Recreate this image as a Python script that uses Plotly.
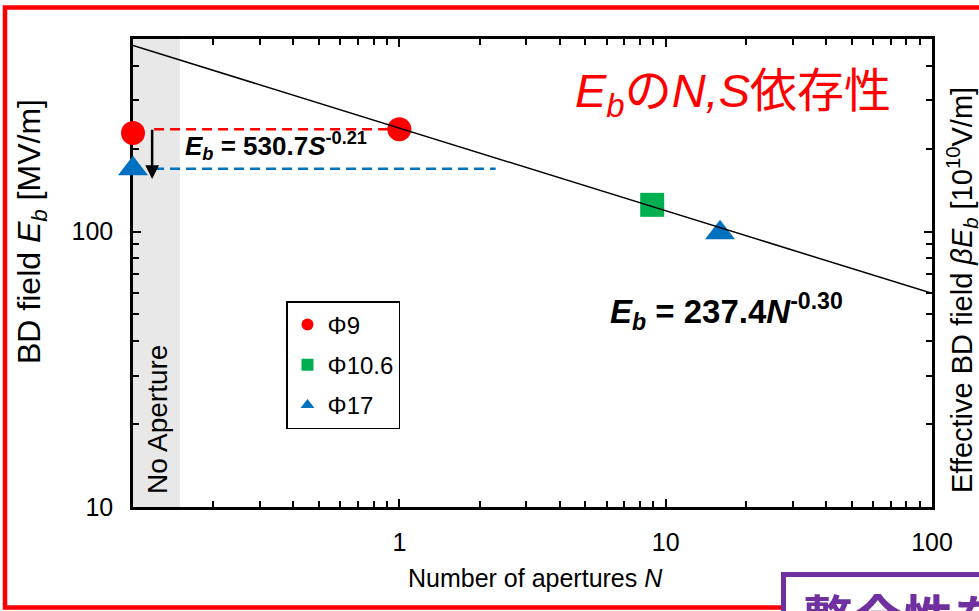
import numpy as np
import plotly.graph_objects as go

# Breakdown field vs number of apertures (E_b in MV/m)
N_phi9 = [0.1, 1.0]
E_phi9 = [228, 235]
N_phi106 = [8.9]
E_phi106 = [125]
N_phi17 = [0.1, 16.0]
E_phi17 = [169, 99]

# power-law fit E_b = A * N^k
fit_A = 237.4
fit_k = -0.30
N_fit = [0.1, 100.0]

# aperture-area fit coefficients (label only)
area_A = 530.7
area_k = -0.21

# guide lines comparing Phi9 (N=1) with Phi17 (no aperture)
guide_red_N = [0.12, 1.0]
guide_blue_N = [0.12, 2.3]
arrow_N = 0.118
arrow_from_E = 237
arrow_to_E = 155

# "No Aperture" band
band_N = [0.1, 0.15]

x_major = [1, 10, 100]
x_major_text = ["1", "10", "100"]
y_major = [10, 100]
y_major_text = ["10", "100"]
x_minor = [m * 10.0 ** e for e in (-1, 0, 1) for m in range(2, 10)]
y_minor = [m * 10.0 ** e for e in (1, 2) for m in range(2, 10) if m * 10.0 ** e < 500]

E_fit = [fit_A * n ** fit_k for n in N_fit]

FONT = "Liberation Sans, Arial, Noto Sans CJK JP, sans-serif"
RED = "#FF0000"
GREEN = "#00B050"
BLUE = "#0070C0"
PURPLE = "#7030A0"

W, H = 979, 611
L, R, T, B = 133, 932, 39, 507


def fx(px):
    return (px - L) / (R - L)


def fy(py):
    return (B - py) / (B - T)


fig = go.Figure()

# dashed guides
fig.add_trace(go.Scatter(x=guide_red_N, y=[E_phi9[1]] * 2, mode="lines",
                         line=dict(color=RED, width=2.5, dash="10px,6px"),
                         showlegend=False, hoverinfo="skip"))
fig.add_trace(go.Scatter(x=guide_blue_N, y=[E_phi17[0]] * 2, mode="lines",
                         line=dict(color=BLUE, width=2.5, dash="10px,6px"),
                         showlegend=False, hoverinfo="skip"))

# measured points
fig.add_trace(go.Scatter(x=N_phi9, y=E_phi9, mode="markers", name="Φ9",
                         legendgroup="a",
                         marker=dict(symbol="circle", size=24, color=RED),
                         cliponaxis=False))
fig.add_trace(go.Scatter(x=N_phi106, y=E_phi106, mode="markers", name="Φ10.6",
                         legendgroup="b",
                         marker=dict(symbol="square", size=24, color=GREEN),
                         cliponaxis=False))
fig.add_trace(go.Scatter(x=N_phi17, y=E_phi17, mode="markers", name="Φ17",
                         legendgroup="c",
                         marker=dict(symbol="triangle-up", size=26, color=BLUE),
                         cliponaxis=False))

# fit line
fig.add_trace(go.Scatter(x=N_fit, y=E_fit, mode="lines",
                         line=dict(color="black", width=1.5),
                         showlegend=False, hoverinfo="skip"))

shapes = [
    dict(type="rect", xref="x", yref="paper", x0=band_N[0], x1=band_N[1], y0=0, y1=1,
         fillcolor="#E8E8E8", line=dict(width=0), layer="below"),
    # outer frame
    dict(type="rect", xref="paper", yref="paper", x0=fx(5), x1=fx(990), y0=fy(7.5), y1=fy(607.5),
         line=dict(color=RED, width=4.5), fillcolor="rgba(0,0,0,0)", layer="above"),
    # callout box
    dict(type="rect", xref="paper", yref="paper", x0=fx(783.5), x1=fx(1000), y0=fy(574.5), y1=fy(660),
         line=dict(color=PURPLE, width=5), fillcolor="white", layer="above"),
]

annotations = [
    # axis titles
    dict(text="Number of apertures <i>N</i>", x=fx(535), y=fy(578), xref="paper", yref="paper",
         showarrow=False, font=dict(size=25, color="black", family=FONT), xanchor="center", yanchor="middle"),
    dict(text="BD field <i>E</i><sub><i>b</i></sub> [MV/m]", x=fx(31), y=fy(232), xref="paper", yref="paper",
         showarrow=False, textangle=-90, font=dict(size=32, color="black", family=FONT),
         xanchor="center", yanchor="middle"),
    dict(text="Effective BD field <i>βE</i><sub><i>b</i></sub> [10<sup>10</sup>V/m]", x=fx(962), y=fy(290),
         xref="paper", yref="paper", showarrow=False, textangle=-90,
         font=dict(size=29, color="black", family=FONT), xanchor="center", yanchor="middle"),
    dict(text="No Aperture", x=fx(157), y=fy(420), xref="paper", yref="paper", showarrow=False,
         textangle=-90, font=dict(size=28, color="black", family=FONT), xanchor="center", yanchor="middle"),
    # fit equations
    dict(text="<b><i>E</i><sub><i>b</i></sub> = %.1f<i>N</i><sup>%.2f</sup></b>" % (fit_A, fit_k),
         x=fx(726), y=fy(312), xref="paper", yref="paper", showarrow=False,
         font=dict(size=33, color="black", family=FONT), xanchor="center", yanchor="middle"),
    dict(text="<b><i>E</i><sub><i>b</i></sub> = %.1f<i>S</i><sup>%.2f</sup></b>" % (area_A, area_k),
         x=fx(276), y=fy(146), xref="paper", yref="paper", showarrow=False,
         font=dict(size=26, color="black", family=FONT), xanchor="center", yanchor="middle"),
    # heading
    dict(text="<i>E</i><sub><i>b</i></sub>の<i>N,S</i>依存性", x=fx(573), y=fy(94), xref="paper", yref="paper",
         showarrow=False, font=dict(size=47, color=RED, family=FONT), xanchor="left", yanchor="middle"),
    # callout text
    dict(text="<b>整合性を確認</b>", x=fx(801), y=fy(577), xref="paper", yref="paper", showarrow=False,
         font=dict(size=50, color=PURPLE, family="Noto Sans CJK JP"), xanchor="left", yanchor="top"),
    # arrow between guides
    dict(x=np.log10(arrow_N), y=np.log10(arrow_to_E), ax=np.log10(arrow_N), ay=np.log10(arrow_from_E),
         xref="x", yref="y", axref="x", ayref="y", text="", showarrow=True,
         arrowhead=2, arrowsize=1.1, arrowwidth=2.5, arrowcolor="black"),
]

axis_common = dict(
    showline=True, linecolor="black", linewidth=2.5, mirror="ticks",
    ticks="inside", ticklen=8, tickwidth=1.5, tickcolor="black",
    showgrid=False, zeroline=False, layer="below traces",
    tickfont=dict(size=25, color="black", family=FONT),
)

fig.update_layout(
    width=W, height=H,
    margin=dict(l=L, r=W - R, t=T, b=H - B, pad=0),
    paper_bgcolor="white", plot_bgcolor="white",
    font=dict(family=FONT, color="black"),
    xaxis=dict(type="log", range=[-1, 2], tickvals=x_major, ticktext=x_major_text,
               ticklabelstandoff=11,
               minor=dict(tickvals=x_minor, ticks="inside", ticklen=6, tickwidth=1.5,
                          tickcolor="black", showgrid=False),
               **axis_common),
    yaxis=dict(type="log", range=[1, np.log10(500)], tickvals=y_major, ticktext=y_major_text,
               ticklabelstandoff=12,
               minor=dict(tickvals=y_minor, ticks="inside", ticklen=6, tickwidth=1.5,
                          tickcolor="black", showgrid=False),
               **axis_common),
    legend=dict(x=fx(286), y=fy(301), xanchor="left", yanchor="top",
                bgcolor="white", bordercolor="black", borderwidth=1.5,
                font=dict(size=24, color="black", family=FONT),
                itemsizing="constant", tracegroupgap=6),
    shapes=shapes,
    annotations=annotations,
)

fig.write_html("out.html")
